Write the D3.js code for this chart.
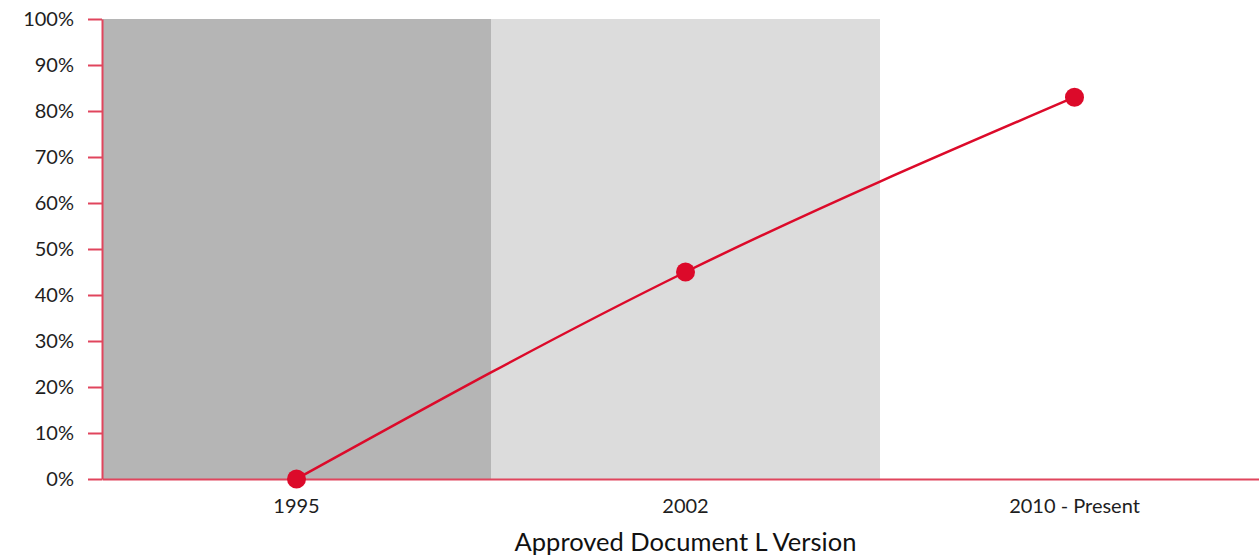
<!DOCTYPE html>
<html>
<head>
<meta charset="utf-8">
<script src="https://cdn.jsdelivr.net/npm/d3@7"></script>
<style>
  body { margin: 0; background: #fff; }
  svg { display: block; font-family: Lato, "Noto Sans", sans-serif; }
  .axis text { fill: #1e1e1e; }
</style>
</head>
<body>
<svg width="1259" height="558"></svg>
<script>
const versions = ['1995', '2002', '2010 - Present'];
const shares = [0, 0.45, 0.83];
const bandFills = ['#b5b5b5', '#dcdcdc', '#ffffff'];
const yTicks = [0, 0.1, 0.2, 0.3, 0.4, 0.5, 0.6, 0.7, 0.8, 0.9, 1];
const xTitle = 'Approved Document L Version';

const svg = d3.select('svg');
const margins = { top: 19, left: 102, bottom: 79 };
const plotBottom = +svg.attr('height') - margins.bottom;
const red = '#dc0a2a';
const axisRed = '#e0455d';
const fontStack = 'Lato, "Noto Sans", sans-serif';

const xScale = d3.scaleBand()
  .domain(versions)
  .range([margins.left, margins.left + 389 * versions.length])
  .padding(0);

const yScale = d3.scaleLinear()
  .domain([0, 1])
  .range([plotBottom, margins.top]);

// background bands per version
svg.append('g')
  .attr('class', 'bands')
  .selectAll('rect')
  .data(versions)
  .enter()
  .append('rect')
    .attr('x', d => xScale(d))
    .attr('y', yScale(1))
    .attr('width', xScale.bandwidth())
    .attr('height', yScale(0) - yScale(1))
    .attr('fill', (d, i) => bandFills[i]);

// y axis
const yAxisGroup = svg.append('g')
  .attr('class', 'axis y-axis')
  .attr('transform', `translate(${margins.left}, 0)`)
  .call(d3.axisLeft(yScale)
    .tickValues(yTicks)
    .tickFormat(d3.format('.0%'))
    .tickSize(14)
    .tickSizeOuter(0)
    .tickPadding(14));
yAxisGroup.attr('font-family', fontStack).attr('font-size', 20);
yAxisGroup.selectAll('line').attr('stroke', axisRed).attr('stroke-width', 2);
yAxisGroup.select('path.domain').attr('stroke', axisRed).attr('stroke-width', 2);

// x axis
const xAxisGroup = svg.append('g')
  .attr('class', 'axis x-axis')
  .attr('transform', `translate(0, ${plotBottom})`)
  .call(d3.axisBottom(xScale).tickSize(0).tickPadding(20));
xAxisGroup.attr('font-family', fontStack).attr('font-size', 20);
xAxisGroup.select('path.domain').attr('stroke', axisRed).attr('stroke-width', 2);

svg.append('text')
  .attr('class', 'x-title')
  .attr('x', xScale('2002') + xScale.bandwidth() / 2)
  .attr('y', plotBottom + 72)
  .attr('text-anchor', 'middle')
  .attr('fill', '#111')
  .style('font-size', '25.5px')
  .text(xTitle);

// line + points
const points = versions.map((v, i) => ({ version: v, share: shares[i] }));
const lineGenerator = d3.line()
  .x(d => xScale(d.version) + xScale.bandwidth() / 2)
  .y(d => yScale(d.share))
  .curve(d3.curveMonotoneX);

svg.append('path')
  .attr('d', lineGenerator(points))
  .attr('fill', 'none')
  .attr('stroke', red)
  .attr('stroke-width', 2.5);

svg.append('g')
  .attr('class', 'points')
  .selectAll('circle')
  .data(points)
  .enter()
  .append('circle')
    .attr('cx', d => xScale(d.version) + xScale.bandwidth() / 2)
    .attr('cy', d => yScale(d.share))
    .attr('r', 9.5)
    .attr('fill', red);
</script>
</body>
</html>
